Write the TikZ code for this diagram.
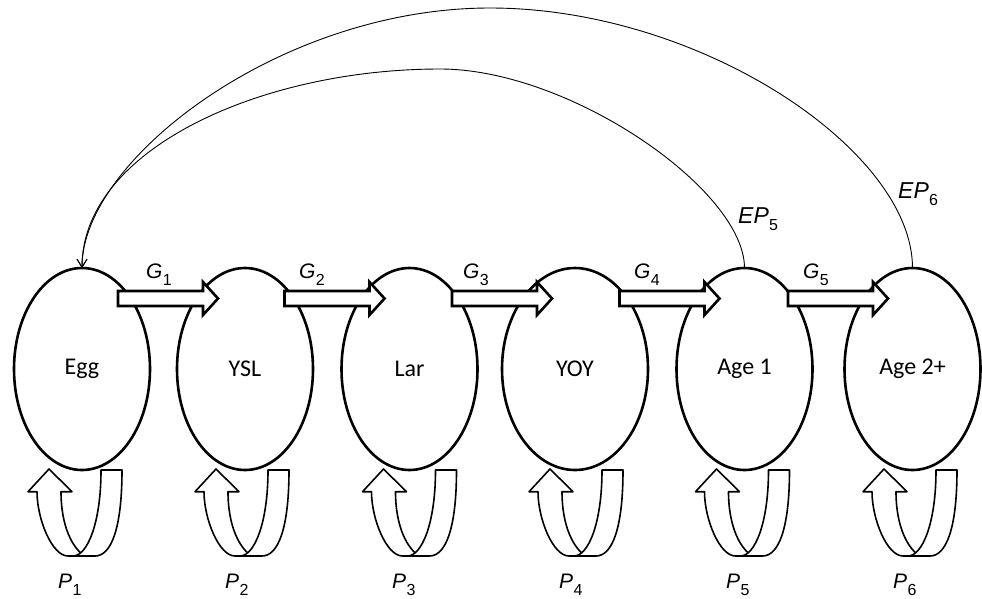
\documentclass[tikz,border=0pt]{standalone}
\usepackage{fontspec}
\newfontfamily\arialf{Liberation Sans}
\newfontfamily\calf{Carlito}
\usetikzlibrary{shapes.geometric,arrows.meta,calc}
\newcommand\symlab[3]{{\arialf\fontsize{#3}{#3}\selectfont\itshape #1\upshape\kern0.3pt\raisebox{-7pt}{\fontsize{16}{16}\selectfont #2}}}
\begin{document}
\begin{tikzpicture}[x=1pt,y=-1pt,
  stage/.style={ellipse, draw, line width=2.6pt, minimum width=136pt, minimum height=202pt,
    inner sep=0pt, outer sep=0pt, font={\calf\fontsize{24}{24}\selectfont}},
  garrowstyle/.style={draw, fill=white, line width=2.6pt, line join=miter},
  loopband/.style={draw, fill=white, line width=1.6pt, line join=round},
  feedback/.style={line width=0.9pt, -{Straight Barb[length=8pt,width=10pt]}},
  lab/.style={inner sep=0pt},
  ploop/.pic={
    \path[loopband] (0,0) -- (23,22.7) -- (12,22.7) .. controls (12,58) and (24,80) .. (36,87)
      -- (19,87) .. controls (3,87) and (-12,50) .. (-12,22.7) -- (-21,22.7) -- cycle;
    \path[loopband] (52,1) -- (73,1) .. controls (73,60) and (62,87) .. (46,87)
      -- (24,87) .. controls (38,87) and (52,55) .. (52,1) -- cycle;
  }]
\useasboundingbox (0,0) rectangle (982,598);

\node[stage] (egg) at (82,369) {Egg};
\node[stage] (ysl) at (245,369) {YSL};
\node[stage] (lar) at (409.5,369) {Lar};
\node[stage, minimum width=146pt] (yoy) at (575,369) {YOY};
\node[stage] (age1) at (744.5,369) {Age 1};
\node[stage] (age2) at (912.5,369) {Age 2+};

% growth block arrows
\foreach \a/\b/\t in {egg/ysl/-27, ysl/lar/-25, lar/yoy/-23, yoy/age1/-25, age1/age2/-24.5}{
  \draw[garrowstyle] ($(\b.center)+(\t-100,-78)$) -- ++(85,0) -- ++(0,-9) -- ++(15,16.5)
    -- ++(-15,16.5) -- ++(0,-9) -- ++(-85,0) -- cycle;
}

\node[lab, anchor=base] (g1) at (159,278) {\symlab{G}{1}{21}};
\node[lab, anchor=base] (g2) at (312,278) {\symlab{G}{2}{21}};
\node[lab, anchor=base] (g3) at (476,278) {\symlab{G}{3}{21}};
\node[lab, anchor=base] (g4) at (647,278) {\symlab{G}{4}{21}};
\node[lab, anchor=base] (g5) at (816,278) {\symlab{G}{5}{21}};

% persistence loops
\foreach \n/\d in {egg/-33, ysl/-29, lar/-26, yoy/-25, age1/-28, age2/-28.5}{
  \pic at ($(\n.south)+(\d,-1)$) {ploop};
}
\node[lab, anchor=base west] (p1) at (58,588) {\symlab{P}{1}{21}};
\node[lab, anchor=base west] (p2) at (225,588) {\symlab{P}{2}{21}};
\node[lab, anchor=base west] (p3) at (392,588) {\symlab{P}{3}{21}};
\node[lab, anchor=base west] (p4) at (559,588) {\symlab{P}{4}{21}};
\node[lab, anchor=base west] (p5) at (726,588) {\symlab{P}{5}{21}};
\node[lab, anchor=base west] (p6) at (893,588) {\symlab{P}{6}{21}};

% egg production arcs
\coordinate (top6) at (490,8);
\coordinate (top5) at (440,69);
\draw[feedback] (age2.north) .. controls +(0,-118) and +(210,0) .. (top6)
  .. controls +(-210,0) and +(0,-108) .. (egg.north);
\draw[feedback] (age1.north) .. controls +(0,-78) and +(130,0) .. (top5)
  .. controls +(-180,0) and +(0,-118) .. (egg.north);
\node[lab, anchor=base west] (ep5) at (738,223) {\symlab{EP}{5}{23}};
\node[lab, anchor=base west] (ep6) at (898,198) {\symlab{EP}{6}{23}};
\end{tikzpicture}
\end{document}
